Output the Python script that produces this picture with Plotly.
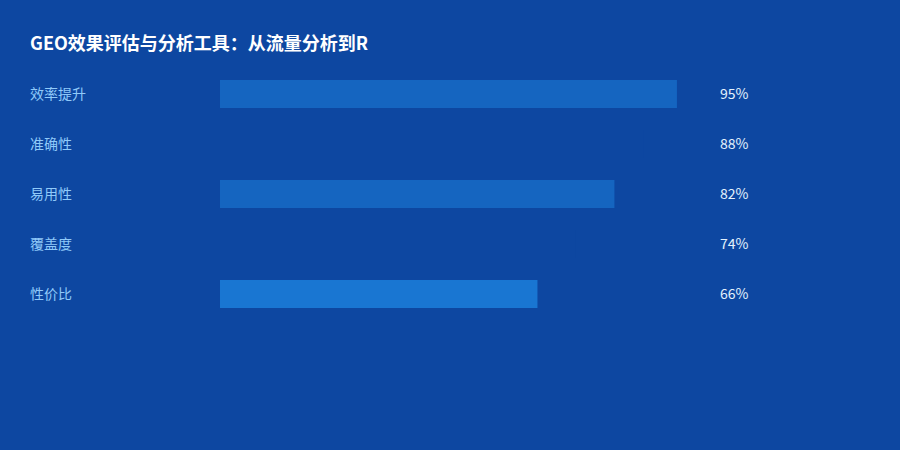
import plotly.graph_objects as go

# Data
categories = ['效率提升', '准确性', '易用性', '覆盖度', '性价比']
scores = [95, 88, 82, 74, 66]
value_labels = ['95%', '88%', '82%', '74%', '66%']
bar_colors = ['#1565C0', '#0D47A1', '#1565C0', '#0D47A1', '#1976D2']

bg = '#0D47A1'
font_family = 'Noto Sans CJK SC, Noto Sans, sans-serif'

fig = go.Figure()
fig.add_trace(go.Bar(
    x=scores,
    y=categories,
    orientation='h',
    marker=dict(color=bar_colors, line=dict(width=0)),
    width=0.56,
    hoverinfo='skip',
))

# Category names, left aligned at the far left
for cat in categories:
    fig.add_annotation(
        x=0, y=cat, xref='x', yref='y',
        xshift=-192, yshift=1, xanchor='left', yanchor='middle',
        text=cat, showarrow=False,
        font=dict(size=14, color='#90CAF9', family=font_family),
    )

# Percentage labels on the right
for cat, lab in zip(categories, value_labels):
    fig.add_annotation(
        x=100, y=cat, xref='x', yref='y',
        xshift=17, yshift=1, xanchor='left', yanchor='middle',
        text=lab, showarrow=False,
        font=dict(size=14, color='#E3F2FD', family=font_family),
    )

fig.update_layout(
    width=900, height=450,
    paper_bgcolor=bg, plot_bgcolor=bg,
    margin=dict(l=220, r=199, t=69, b=131),
    showlegend=False,
    title=dict(
        text='<b>GEO效果评估与分析工具：从流量分析到R</b>',
        x=0, xanchor='left', xref='container', pad=dict(l=30),
        y=1 - 44 / 450, yanchor='middle', yref='container',
        font=dict(size=18, color='#FFFFFF', family=font_family),
    ),
    xaxis=dict(range=[0, 100], visible=False, fixedrange=True),
    yaxis=dict(categoryorder='array', categoryarray=categories,
               autorange='reversed', visible=False, fixedrange=True),
)

# drop the page margin so the chart fills the window
fig.write_html('out.html', config={'displayModeBar': False},
               post_script="document.body.style.margin='0';")
